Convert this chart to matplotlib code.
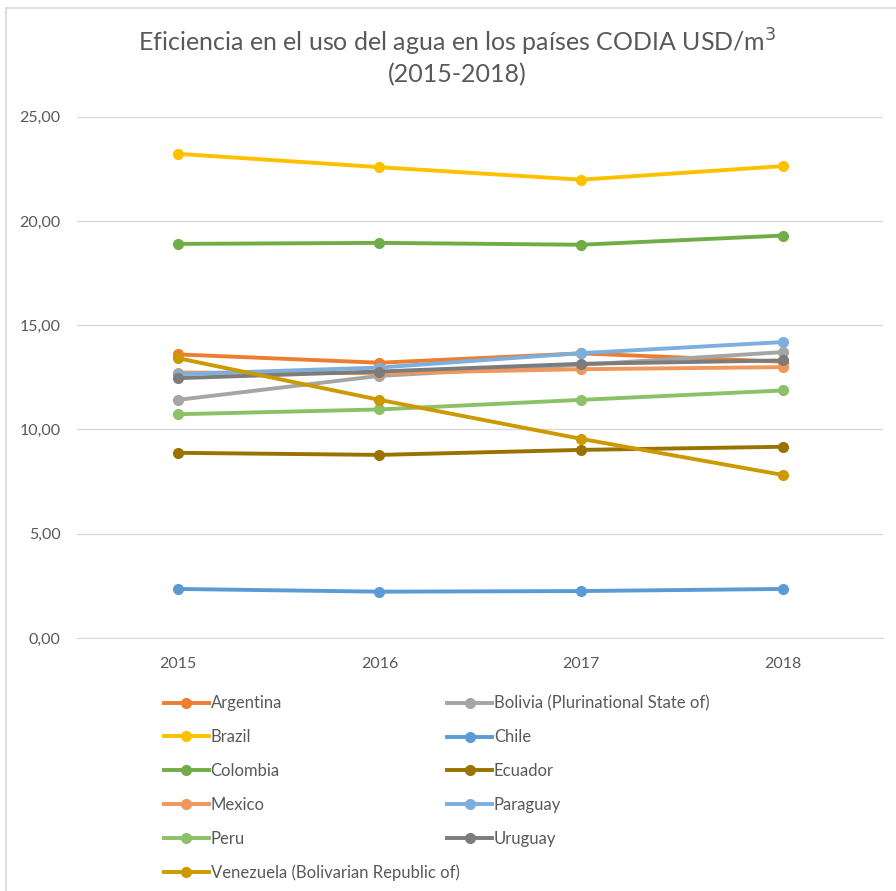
import matplotlib
matplotlib.use('Agg')
import matplotlib.pyplot as plt
from matplotlib.patches import Rectangle
from matplotlib.lines import Line2D

plt.rcParams['font.family'] = ['Lato', 'DejaVu Sans']

years = ['2015', '2016', '2017', '2018']

argentina = [13.60, 13.20, 13.65, 13.25]
bolivia = [11.42, 12.57, 13.10, 13.71]
brazil = [23.22, 22.58, 21.98, 22.63]
chile = [2.35, 2.22, 2.25, 2.35]
colombia = [18.90, 18.95, 18.86, 19.30]
ecuador = [8.88, 8.78, 9.02, 9.17]
mexico = [12.73, 12.70, 12.89, 12.99]
paraguay = [12.65, 12.97, 13.66, 14.19]
peru = [10.73, 10.96, 11.42, 11.87]
uruguay = [12.46, 12.78, 13.15, 13.31]
venezuela = [13.42, 11.42, 9.55, 7.82]

series = [
    ('Argentina', argentina, '#ED7D31'),
    ('Bolivia (Plurinational State of)', bolivia, '#A5A5A5'),
    ('Brazil', brazil, '#FFC000'),
    ('Chile', chile, '#5B9BD5'),
    ('Colombia', colombia, '#70AD47'),
    ('Ecuador', ecuador, '#997300'),
    ('Mexico', mexico, '#F1975A'),
    ('Paraguay', paraguay, '#7CAFDD'),
    ('Peru', peru, '#8CC168'),
    ('Uruguay', uruguay, '#7C7C7C'),
    ('Venezuela (Bolivarian Republic of)', venezuela, '#CC9A00'),
]

txt = '#595959'
grid = '#D9D9D9'

fig = plt.figure(figsize=(8.96, 8.91), dpi=100)
ax = fig.add_axes([0.086, 0.284, 0.900, 0.585])

x = list(range(len(years)))
handles = {}
for name, vals, col in series:
    ln, = ax.plot(x, vals, color=col, lw=2.8, marker='o', ms=7,
                  solid_capstyle='round')
    handles[name] = ln

ax.set_xlim(-0.5, 3.5)
ax.set_ylim(0, 25)
ax.set_yticks([0, 5, 10, 15, 20, 25])
ax.yaxis.set_major_formatter(plt.FuncFormatter(lambda v, p: ('%.2f' % v).replace('.', ',')))
ax.set_xticks(x)
ax.set_xticklabels(years)
ax.tick_params(length=0, labelsize=11.5, colors=txt, pad=12)
ax.tick_params(axis='x', pad=14)
ax.grid(axis='y', color=grid, lw=1)
ax.set_axisbelow(True)
for s in ['left', 'right', 'top']:
    ax.spines[s].set_visible(False)
ax.spines['bottom'].set_color(grid)

fig.text(0.51, 0.952, 'Eficiencia en el uso del agua en los países CODIA USD/m$^3$',
         ha='center', va='center', fontsize=18, color=txt)
fig.text(0.51, 0.916, '(2015-2018)', ha='center', va='center', fontsize=18, color=txt)

def make_handle(name):
    col = handles[name].get_color()
    return Line2D([], [], color=col, lw=2.8, marker='o', ms=7)

col1 = ['Argentina', 'Brazil', 'Colombia', 'Mexico', 'Peru',
        'Venezuela (Bolivarian Republic of)']
col2 = ['Bolivia (Plurinational State of)', 'Chile', 'Ecuador', 'Paraguay', 'Uruguay']

for names, xpos in [(col1, 0.183), (col2, 0.499)]:
    fig.legend([make_handle(n) for n in names], names, loc='upper left',
               bbox_to_anchor=(xpos, 0.2195), frameon=False, fontsize=12,
               labelcolor=txt, handlelength=2.7, handletextpad=0.1,
               labelspacing=1.07, borderpad=0, borderaxespad=0)

fig.patches.append(Rectangle((0.007, -0.01), 1.0, 1.001, transform=fig.transFigure,
                             fill=False, edgecolor=grid, lw=1.2))

fig.savefig('out.png', dpi=100)
